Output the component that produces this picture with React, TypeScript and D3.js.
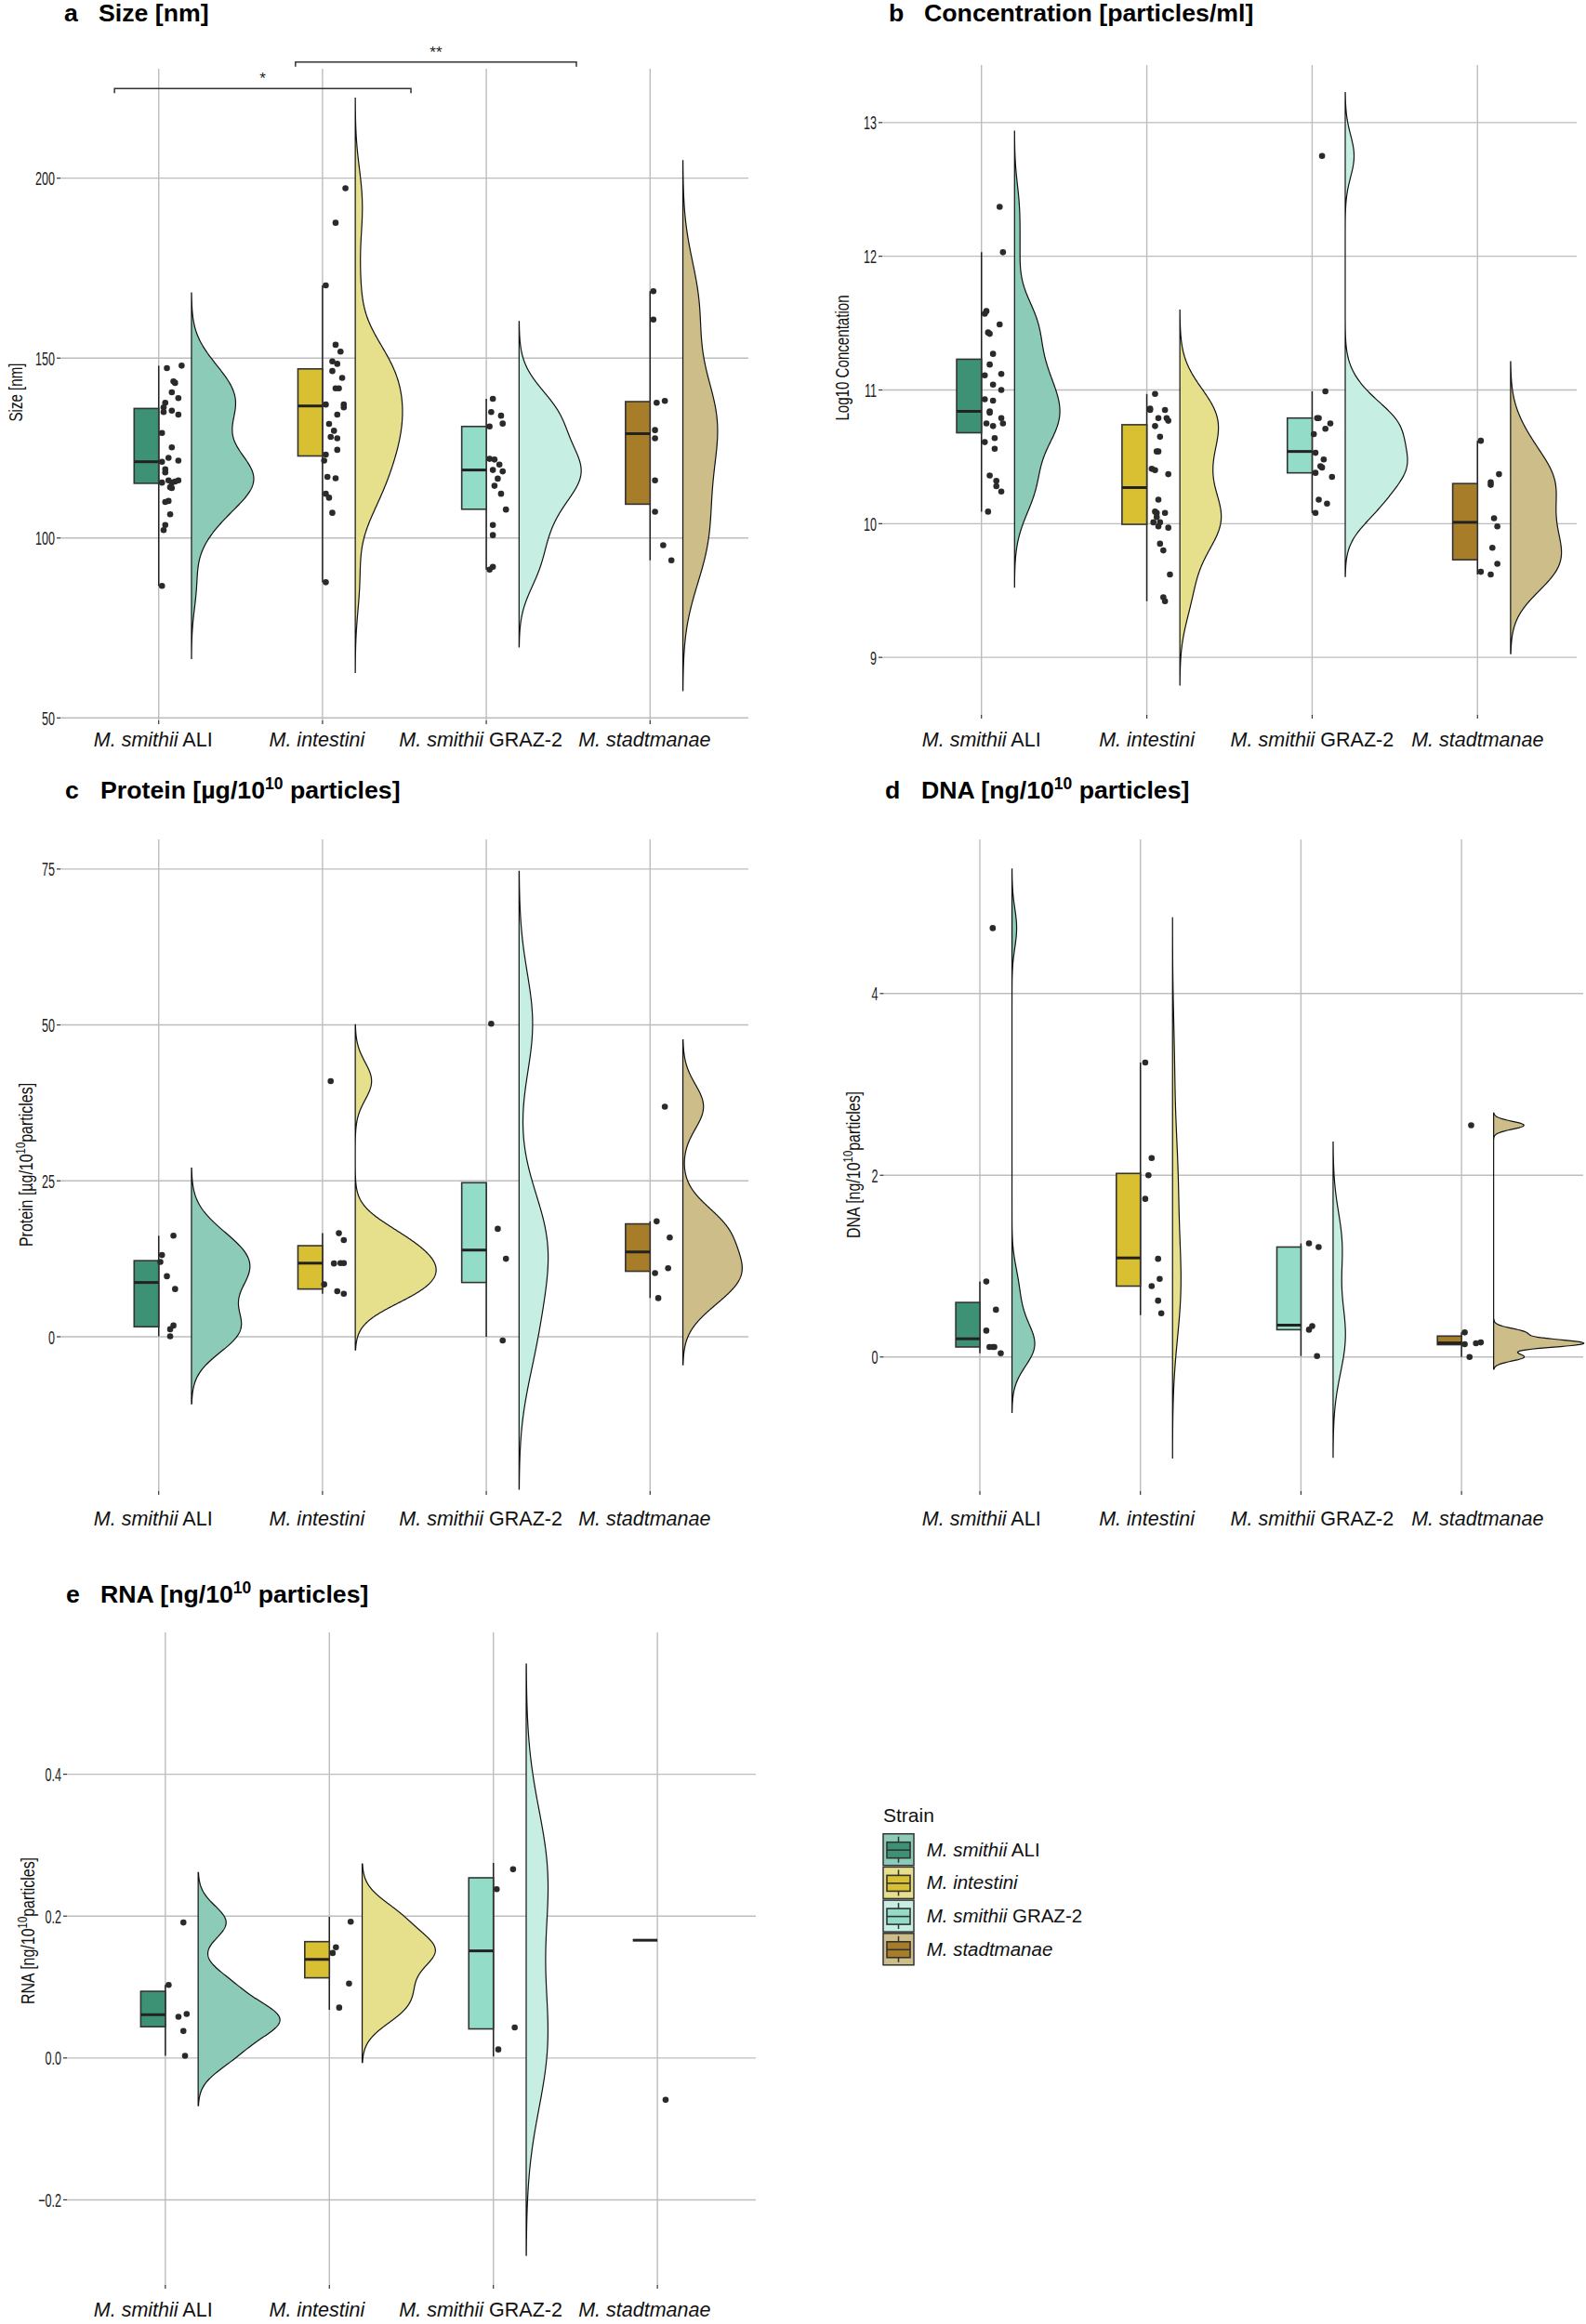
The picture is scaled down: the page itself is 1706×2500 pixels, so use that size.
import React from "react";
import * as d3 from "d3";

// ---------- categories & colours ----------
const strainItalic = ["M. smithii", "M. intestini", "M. smithii", "M. stadtmanae"];
const strainSuffix = [" ALI", "", " GRAZ-2", ""];
const boxFill = ["#3D9174", "#D9C033", "#93DCC8", "#A77D29"];
const violinFill = ["#8CCBB8", "#E6DF8C", "#C7EEE2", "#CDBD89"];

// ---------- panel a: Size [nm]  (each point = [value, horizontal jitter (category units), optional vertical jitter]) ----------
const sizeALI = [[147.9,.14],[147.2,.05],[143.5,.09],[143.1,.10],[140.5,.08],[138.9,.12],[137.6,.04],[136.3,.03],[135.4,.08],[135.0,.03],[134.3,.12],[129.2,.02],[125.2,.08],[122.3,.06],[121.2,.02],[121.5,.12],[119.1,.04],[118.2,.04],[116.0,.06],[115.4,.02],[115.4,.08],[115.7,.10],[116.0,.12],[114.1,.07],[113.9,.08],[110.3,.06],[110.0,.04],[106.6,.07],[103.6,.04],[102.2,.03],[86.7,.02]];
const sizeInt = [[197.2,.14],[187.6,.08],[170.2,.02],[153.7,.08],[151.8,.11],[149.1,.06],[148.4,.09],[146.4,.06],[144.5,.12],[141.6,.08],[141.6,.10],[137.1,.02],[137.1,.13],[136.3,.13],[134.3,.09],[131.7,.04],[129.8,.07],[127.7,.09],[128.1,.05],[124.5,.09],[123.2,.02],[121.5,.01],[117.0,.03],[116.6,.08],[112.3,.02],[111.2,.04],[107.0,.06],[87.7,.02]];
const sizeGraz = [[138.7,.04],[135.0,.03],[134.0,.09],[131.8,.10],[131.0,.02],[122.0,.02],[121.8,.05],[120.4,.08],[118.5,.10],[118.9,.04],[116.5,.07],[114.5,.05],[112.3,.09],[107.9,.12],[103.6,.04],[100.8,.04],[92.0,.04],[91.2,.02]];
const sizeStad = [[168.6,.02],[160.7,.02],[137.6,.04],[138.1,.09],[130.0,.03],[127.7,.03],[116.0,.03],[107.3,.03],[98.0,.08],[93.8,.13]];
// box stats: [q1, median, q3, whisker low, whisker high]
const sizeBox = [[115.2,121.2,136.0,86.7,147.9],[122.8,136.7,147.0,87.7,170.2],[108.0,118.9,131.0,91.2,138.7],[109.4,129.0,137.9,93.8,168.6]];
const sizeTicks = [50, 100, 150, 200];
// significance brackets (category units) for panel a
const sigXmin = [-0.27, 0.835];
const sigXmax = [1.54, 2.55];
const sigY = [224.9, 232.3];
const sigLabel = ["*", "**"];

// ---------- panel b: Log10 concentration ----------
const concALI = [[12.37,.11],[12.03,.13],[11.59,.03],[11.57,.02],[11.49,.11],[11.43,.04],[11.42,.05],[11.27,.07],[11.19,.05],[11.11,.02],[11.12,.12],[11.04,.07],[11.00,.12],[10.93,.02],[10.92,.07],[10.84,.05],[10.83,.05],[10.79,.12],[10.75,.03],[10.75,.13],[10.73,.07],[10.64,.08],[10.61,.02],[10.56,.08],[10.36,.05],[10.32,.09],[10.28,.09],[10.24,.12],[10.09,.04]];
const concInt = [[10.97,.05],[10.86,.02],[10.85,.02],[10.85,.11],[10.79,.07],[10.79,.12],[10.77,.13],[10.73,.05],[10.65,.08],[10.54,.06],[10.54,.07],[10.41,.03],[10.40,.05],[10.37,.13],[10.18,.07],[10.09,.05],[10.08,.06],[10.08,.11],[10.05,.06],[10.01,.04],[10.01,.08],[9.98,.07],[9.97,.13],[9.85,.08],[9.80,.10],[9.62,.14],[9.45,.10],[9.42,.11]];
const concGraz = [[12.75,.06],[10.99,.08],[10.79,.03],[10.79,.04],[10.75,.11],[10.71,.08],[10.67,.01],[10.53,.02],[10.48,.07],[10.43,.05],[10.42,.06],[10.38,.02],[10.35,.12],[10.18,.04],[10.15,.09],[10.08,.02]];
const concStad = [[10.62,.02],[10.37,.13],[10.31,.08],[10.29,.08],[10.04,.10],[9.98,.12],[9.82,.09],[9.70,.12],[9.64,.02],[9.62,.08]];
const concBox = [[10.68,10.84,11.23,10.09,12.03],[9.995,10.27,10.74,9.42,10.97],[10.38,10.54,10.79,10.08,10.99],[9.73,10.01,10.30,9.62,10.62]];
const concTicks = [9, 10, 11, 12, 13];

// ---------- panel c: Protein ----------
const protALI = [[16.2,.09],[13.1,.02],[12.0,.01],[9.7,.05],[7.65,.10],[1.8,.09],[1.2,.07],[0.08,.07]];
const protInt = [[41.0,.05],[16.6,.10],[15.5,.13],[11.75,.07],[11.8,.11],[11.8,.13],[8.4,.01],[7.3,.09],[6.9,.13]];
const protGraz = [[50.2,.03],[17.3,.07],[12.5,.12],[0.0,.10,-0.6]];
const protStad = [[36.9,.09],[18.5,.04],[15.9,.12],[11.0,.11],[10.2,.03],[6.2,.05]];
const protBox = [[1.6,8.7,12.2,0.08,16.2],[7.65,11.8,14.6,6.9,16.6],[8.7,13.9,24.7,0.0,24.7],[10.5,13.6,18.1,6.2,18.5]];
const protTicks = [0, 25, 50, 75];

// ---------- panel d: DNA ----------
const dnaALI = [[4.72,.08],[0.83,.04],[0.52,.10],[0.29,.04],[0.11,.06],[0.11,.08],[0.11,.09],[0.04,.13]];
const dnaInt = [[3.24,.03],[2.19,.07],[2.0,.05],[1.74,.03],[1.08,.11],[0.86,.12],[0.78,.07],[0.62,.11],[0.48,.13]];
const dnaGraz = [[1.25,.05],[1.21,.11],[0.30,.05],[0.34,.07],[0.01,.10]];
const dnaStad = [[2.55,.06],[0.27,.02],[0.14,.02],[0.15,.09],[0.16,.12],[0.0,.05]];
const dnaBox = [[0.11,0.20,0.60,0.04,0.83],[0.78,1.09,2.02,0.46,3.24],[0.30,0.35,1.21,0.01,1.25],[0.135,0.155,0.23,0.0,0.27]];
const dnaTicks = [0, 2, 4];

// ---------- panel e: RNA ----------
const rnaALI = [[0.191,.11],[0.103,.02],[0.058,.08],[0.062,.13],[0.038,.11],[0.003,.12]];
const rnaInt = [[0.199,.13,-0.007],[0.156,.04],[0.148,.02],[0.105,.12],[0.068,.06,0.003]];
const rnaGraz = [[0.275,.12,-0.009],[0.238,.02],[0.043,.13],[0.002,.03,0.010]];
const rnaStad = [[-0.059,.05]];
const rnaBox = [[0.044,0.061,0.094,0.003,0.103],[0.113,0.139,0.164,0.068,0.199],[0.041,0.151,0.254,0.002,0.275],[0.166,0.166,0.166,0.166,0.166]];
const rnaTicks = [-0.2, 0, 0.2, 0.4];

// ---------- helpers ----------
const FONT = "'Liberation Sans', Arial, Helvetica, sans-serif";
const GRID = "#BDBDBD";
const INK = "#333333";

const gauss = (u: number) => Math.exp(-0.5 * u * u) / Math.sqrt(2 * Math.PI);
// Gaussian KDE, bandwidth by Silverman's rule (bw.nrd0) using the box quartiles, cut = 3 bandwidths
function kde(vals: number[], box: number[]) {
  if (vals.length < 2) return null;
  const s = vals.slice().sort(d3.ascending);
  const sd = d3.deviation(s) || 0;
  const iqr = box[2] - box[0];
  let lo = Math.min(sd, iqr / 1.34);
  if (!(lo > 0)) lo = sd || Math.abs(s[0]) || 1;
  const bw = 0.9 * lo * Math.pow(s.length, -0.2);
  const from = s[0] - 3 * bw, to = s[s.length - 1] + 3 * bw;
  return d3.range(512).map((i) => {
    const y = from + ((to - from) * i) / 511;
    return [y, d3.sum(s, (v) => gauss((y - v) / bw)) / (s.length * bw)] as [number, number];
  });
}

type PanelDef = {
  letter: string; title: string; sup?: string; titleTail?: string;
  letterX: number; titleX: number; titleY: number;
  groups: number[][][]; box: number[][]; ticks: number[]; fmt: (d: number) => string;
  domain: [number, number]; left: number; right: number; xMax: number; top: number; bottom: number;
  vmax: number; ylab: string; ylabSup?: string; ylabTail?: string; ylabX: number; ylabY: number; ylabScale: number;
  xlabY: number; labLeft: number; labRight: number; labDx: number;
  sig?: boolean;
};

const panels: PanelDef[] = [
  { letter: "a", title: "Size [nm]", letterX: 69, titleX: 106, titleY: 23,
    groups: [sizeALI, sizeInt, sizeGraz, sizeStad], box: sizeBox, ticks: sizeTicks, fmt: (d) => String(d),
    domain: [49.3, 230.4], left: 65, right: 805, xMax: 3.6, top: 74, bottom: 775, vmax: 67,
    ylab: "Size [nm]", ylabX: 17, ylabY: 422, ylabScale: 0.72, xlabY: 803, labLeft: 65, labRight: 805, labDx: -6, sig: true },
  { letter: "b", title: "Concentration [particles/ml]", letterX: 956, titleX: 994, titleY: 23,
    groups: [concALI, concInt, concGraz, concStad], box: concBox, ticks: concTicks, fmt: (d) => String(d),
    domain: [8.57, 13.43], left: 949, right: 1696, xMax: 3.6, top: 70, bottom: 769, vmax: 67,
    ylab: "Log10 Concentation", ylabX: 906, ylabY: 385, ylabScale: 0.72, xlabY: 803, labLeft: 949, labRight: 1696, labDx: 0 },
  { letter: "c", title: "Protein [\u00B5g/10", sup: "10", titleTail: " particles]", letterX: 70, titleX: 108, titleY: 859,
    groups: [protALI, protInt, protGraz, protStad], box: protBox, ticks: protTicks, fmt: (d) => String(d),
    domain: [-24.75, 79.75], left: 65, right: 805, xMax: 3.6, top: 903, bottom: 1604, vmax: 87,
    ylab: "Protein [\u00B5g/10", ylabSup: "10", ylabTail: "particles]", ylabX: 28, ylabY: 1253, ylabScale: 0.76,
    xlabY: 1641, labLeft: 65, labRight: 805, labDx: -6 },
  { letter: "d", title: "DNA [ng/10", sup: "10", titleTail: " particles]", letterX: 952, titleX: 991, titleY: 859,
    groups: [dnaALI, dnaInt, dnaGraz, dnaStad], box: dnaBox, ticks: dnaTicks, fmt: (d) => String(d),
    domain: [-1.476, 5.696], left: 950.4, right: 1703, xMax: 3.758, top: 903, bottom: 1604, vmax: 97,
    ylab: "DNA [ng/10", ylabSup: "10", ylabTail: "particles]", ylabX: 918, ylabY: 1253, ylabScale: 0.76,
    xlabY: 1641, labLeft: 949, labRight: 1696, labDx: 0 },
  { letter: "e", title: "RNA [ng/10", sup: "10", titleTail: " particles]", letterX: 71, titleX: 108, titleY: 1724,
    groups: [rnaALI, rnaInt, rnaGraz, rnaStad], box: rnaBox, ticks: rnaTicks, fmt: d3.format(".1f"),
    domain: [-0.32, 0.6], left: 72, right: 813, xMax: 3.6, top: 1756, bottom: 2458, vmax: 88,
    ylab: "RNA [ng/10", ylabSup: "10", ylabTail: "particles]", ylabX: 30, ylabY: 2077, ylabScale: 0.76,
    xlabY: 2492, labLeft: 65, labRight: 805, labDx: -6 },
];

function Panel({ p }: { p: PanelDef }) {
  const x = d3.scaleLinear().domain([-0.6, p.xMax]).range([p.left, p.right]);
  const xl = d3.scaleLinear().domain([-0.6, 3.6]).range([p.labLeft, p.labRight]);
  const y = d3.scaleLinear().domain(p.domain).range([p.bottom, p.top]);
  const step = x(1) - x(0);
  const dens = p.groups.map((g, i) => kde(g.map((d) => d[0]), p.box[i]));
  const maxD = d3.max(dens, (d) => (d ? d3.max(d, (e) => e[1]) : 0)) as number;
  const boxW = 0.15 * step;
  return (
    <g>
      {/* title */}
      <text x={p.letterX} y={p.titleY} fontFamily={FONT} fontWeight="bold" fontSize={26.7}>{p.letter}</text>
      <text x={p.titleX} y={p.titleY} fontFamily={FONT} fontWeight="bold" fontSize={26.7}>
        {p.title}
        {p.sup && <tspan dy={-10} fontSize={17.5}>{p.sup}</tspan>}
        {p.titleTail && <tspan dy={10} fontSize={26.7}>{p.titleTail}</tspan>}
      </text>
      {/* grid */}
      {p.ticks.map((t) => (
        <line key={"h" + t} x1={p.left} x2={p.right} y1={y(t)} y2={y(t)} stroke={GRID} strokeWidth={1.4} />
      ))}
      {[0, 1, 2, 3].map((i) => (
        <line key={"v" + i} x1={x(i)} x2={x(i)} y1={p.top} y2={p.bottom} stroke={GRID} strokeWidth={1.4} />
      ))}
      {/* axis ticks */}
      {p.ticks.map((t) => (
        <g key={"t" + t}>
          <line x1={p.left - 4} x2={p.left} y1={y(t)} y2={y(t)} stroke={INK} strokeWidth={1.2} />
          <text transform={`translate(${p.left - 6},${y(t)}) scale(0.6,1)`} textAnchor="end" dy="0.36em"
            fontFamily={FONT} fontSize={21} fill="#222">{p.fmt(t)}</text>
        </g>
      ))}
      {[0, 1, 2, 3].map((i) => (
        <g key={"xt" + i}>
          <line x1={x(i)} x2={x(i)} y1={p.bottom} y2={p.bottom + 4} stroke={INK} strokeWidth={1.2} />
          <text x={xl(i) + p.labDx} y={p.xlabY} textAnchor="middle" fontFamily={FONT} fontSize={21.5} fill="#111">
            <tspan fontStyle="italic">{strainItalic[i]}</tspan>
            {strainSuffix[i] && <tspan>{strainSuffix[i]}</tspan>}
          </text>
        </g>
      ))}
      {/* y label */}
      <text transform={`translate(${p.ylabX},${p.ylabY}) rotate(-90) scale(${p.ylabScale},1)`} textAnchor="middle" dy="0.35em"
        fontFamily={FONT} fontSize={21} fill="#111">
        {p.ylab}
        {p.ylabSup && <tspan dy={-8} fontSize={15}>{p.ylabSup}</tspan>}
        {p.ylabTail && <tspan dy={8} fontSize={21}>{p.ylabTail}</tspan>}
      </text>
      {/* violins */}
      {dens.map((d, i) => {
        if (!d) return null;
        const x0 = x(i) + 0.2 * step;
        const area = d3.area<[number, number]>()
          .y((e) => y(e[0]))
          .x0(x0)
          .x1((e) => x0 + (e[1] / maxD) * p.vmax);
        return <path key={"vio" + i} d={area(d) as string} fill={violinFill[i]} stroke="#111" strokeWidth={1.2} />;
      })}
      {/* whiskers + boxes */}
      {p.box.map((b, i) => (
        <g key={"box" + i}>
          <line x1={x(i)} x2={x(i)} y1={y(b[3])} y2={y(b[4])} stroke="#222" strokeWidth={1.5} />
          <rect x={x(i) - boxW} width={boxW} y={y(b[2])} height={Math.max(0, y(b[0]) - y(b[2]))}
            fill={boxFill[i]} stroke={INK} strokeWidth={1.6} />
          <line x1={x(i) - boxW} x2={x(i)} y1={y(b[1])} y2={y(b[1])} stroke="#222" strokeWidth={3} />
        </g>
      ))}
      {/* points */}
      {p.groups.map((g, i) =>
        g.map((d, j) => <circle key={`pt${i}-${j}`} cx={x(i + d[1])} cy={y(d[0] + (d[2] || 0))} r={3.3} fill="#2A2A2A" />)
      )}
      {/* significance */}
      {p.sig && sigY.map((sy, k) => {
        const yy = y(sy);
        const xa = x(sigXmin[k]), xb = x(sigXmax[k]);
        return (
          <g key={"sig" + k}>
            <path d={`M${xa},${yy + 5}V${yy}H${xb}V${yy + 5}`} fill="none" stroke={INK} strokeWidth={1.5} />
            <text x={(xa + xb) / 2} y={yy - 5} textAnchor="middle" fontFamily={FONT} fontSize={17} fill="#222">{sigLabel[k]}</text>
          </g>
        );
      })}
    </g>
  );
}

function Legend() {
  const lx = 950, ly = 1972.7, stepY = 35.7, kw = 33, kh = 34;
  return (
    <g>
      <text x={lx} y={1960} fontFamily={FONT} fontSize={21} fill="#111">Strain</text>
      {[0, 1, 2, 3].map((i) => {
        const ty = ly + i * stepY;
        const cx = lx + kw / 2;
        return (
          <g key={"lg" + i}>
            <rect x={lx} y={ty} width={kw} height={kh} fill={violinFill[i]} stroke="#333" strokeWidth={1.5} />
            <line x1={cx} x2={cx} y1={ty + 3} y2={ty + kh - 3} stroke="#333" strokeWidth={1.5} />
            <rect x={lx + 4} y={ty + 9} width={kw - 8} height={kh - 17} fill={boxFill[i]} stroke="#333" strokeWidth={1.6} />
            <line x1={lx + 4} x2={lx + kw - 4} y1={ty + 9 + (kh - 17) / 2} y2={ty + 9 + (kh - 17) / 2} stroke="#333" strokeWidth={1.6} />
            <text x={996.7} y={ty + kh / 2 + 7} fontFamily={FONT} fontSize={20.5} fill="#111">
              <tspan fontStyle="italic">{strainItalic[i]}</tspan>
              {strainSuffix[i] && <tspan>{strainSuffix[i]}</tspan>}
            </text>
          </g>
        );
      })}
    </g>
  );
}

export default function App() {
  return (
    <div style={{ position: "absolute", left: 0, top: 0 }}>
      <svg width={1706} height={2500} viewBox="0 0 1706 2500" style={{ display: "block", background: "#fff" }}>
        <rect width={1706} height={2500} fill="#fff" />
        {panels.map((p) => <Panel key={p.letter} p={p} />)}
        <Legend />
      </svg>
    </div>
  );
}
